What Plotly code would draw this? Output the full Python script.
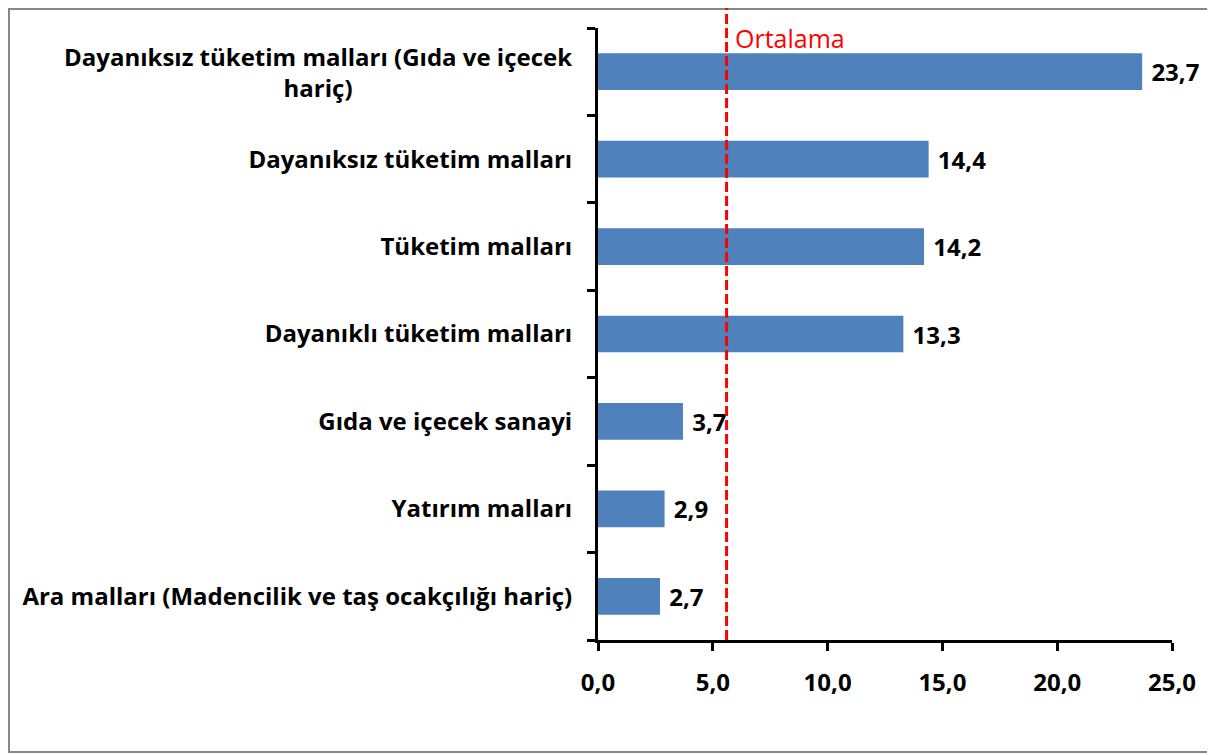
import plotly.graph_objects as go

# --- DATA ---
CATEGORIES = ["Dayanıksız tüketim malları (Gıda ve içecek hariç)", "Dayanıksız tüketim malları",
              "Tüketim malları", "Dayanıklı tüketim malları", "Gıda ve içecek sanayi",
              "Yatırım malları", "Ara malları (Madencilik ve taş ocakçılığı hariç)"]
VALUES = [23.7, 14.4, 14.2, 13.3, 3.7, 2.9, 2.7]
MEAN = 5.6
X_TICKS = [0, 5, 10, 15, 20, 25]

FONT = "Open Sans"
FS = 24
OFF = 8  # page body margin
W, H = 1215 - OFF, 755 - OFF
L, T = 598 - OFF, 28 - OFF
R, B = W - (1172 - OFF), H - (640 - OFF)
pw, ph = W - L - R, H - T - B

# first label is wrapped and centred, so it goes in an annotation
tick_text = [""] + CATEGORIES[1:]

fig = go.Figure(go.Bar(
    x=VALUES, y=CATEGORIES, orientation="h", width=0.42,
    marker=dict(color="#4F81BD", line=dict(width=0)),
    text=VALUES, texttemplate=" %{x:.1f}", textposition="outside", cliponaxis=False,
    textfont=dict(family=FONT, size=FS, color="black", weight="bold"),
))

fig.update_layout(
    width=W, height=H, margin=dict(l=L, r=R, t=T, b=B),
    paper_bgcolor="white", plot_bgcolor="white", separators=",.",
    showlegend=False, font=dict(family=FONT, color="black"),
    xaxis=dict(range=[0, 25], tickvals=X_TICKS, tickformat=".1f", showgrid=False, zeroline=False,
               showline=True, linecolor="black", linewidth=3, ticks="outside", ticklen=8, tickwidth=3,
               tickcolor="black", ticklabelstandoff=11,
               tickfont=dict(family=FONT, size=FS, weight="bold")),
    yaxis=dict(categoryorder="array", categoryarray=CATEGORIES, autorange="reversed",
               tickvals=CATEGORIES, ticktext=tick_text, tickson="boundaries",
               showgrid=False, zeroline=False, showline=True, linecolor="black", linewidth=3,
               ticks="outside", ticklen=8, tickwidth=3, tickcolor="black", ticklabelstandoff=18,
               tickfont=dict(family=FONT, size=FS, weight="bold")),
)

fig.add_annotation(xref="paper", yref="y", x=-24 / pw, y=CATEGORIES[0], xanchor="right", yanchor="middle",
                   text="Dayanıksız tüketim malları (Gıda ve içecek<br>hariç)", align="center", showarrow=False,
                   font=dict(family=FONT, size=FS, weight="bold", color="black"))

# mean line
fig.add_shape(type="line", xref="x", yref="paper", x0=MEAN, x1=MEAN, y0=0, y1=(640 - 8) / ph,
              line=dict(color="#FF0000", width=3, dash="10px,4px"))
fig.add_annotation(xref="x", yref="paper", x=MEAN, y=(640 - 38) / ph, xanchor="left", yanchor="middle",
                   xshift=6, text="Ortalama", showarrow=False, font=dict(family=FONT, size=25, color="#FF0000"))

# outer border (page coords, clamped to the visible canvas)
fig.add_shape(type="rect", xref="paper", yref="paper",
              x0=(9 - 598) / pw, x1=(1213 - 598) / pw, y0=(640 - 752) / ph, y1=(640 - 9) / ph,
              line=dict(color="#868686", width=2), layer="below")

fig.write_html("out.html")
